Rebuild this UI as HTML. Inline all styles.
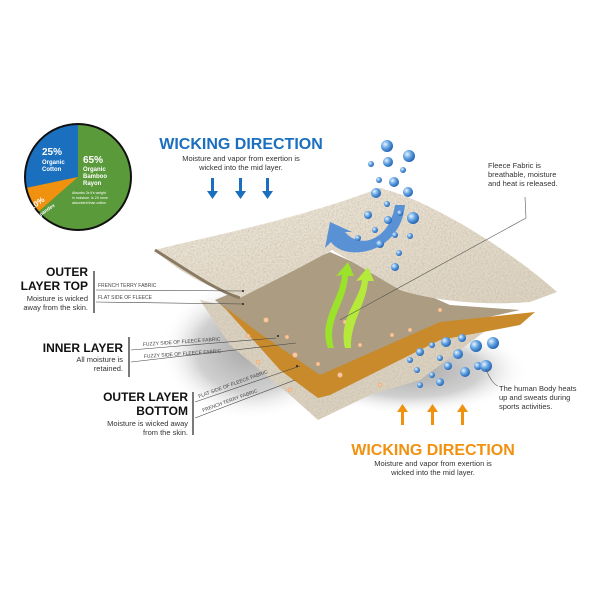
<!DOCTYPE html>
<html><head><meta charset="utf-8"><style>
body{margin:0;background:#fff;}
svg{display:block;font-family:"Liberation Sans",sans-serif;}
</style></head><body>
<svg width="600" height="600" viewBox="0 0 600 600" xmlns="http://www.w3.org/2000/svg">
<defs>
<radialGradient id="bub" cx="0.35" cy="0.35" r="0.7"><stop offset="0" stop-color="#e8f4ff"/><stop offset="0.5" stop-color="#5fa0e0"/><stop offset="1" stop-color="#1f5fb0"/></radialGradient>
<radialGradient id="sh" cx="0.5" cy="0.5" r="0.5"><stop offset="0" stop-color="#a8a8a8"/><stop offset="0.6" stop-color="#d0d0d0"/><stop offset="1" stop-color="#fff" stop-opacity="0"/></radialGradient>
<linearGradient id="fl" x1="0" y1="0" x2="1" y2="1"><stop offset="0" stop-color="#efe8da"/><stop offset="1" stop-color="#ddd2bf"/></linearGradient>
<filter id="tex" x="0" y="0" width="1" height="1"><feTurbulence type="fractalNoise" baseFrequency="0.6" numOctaves="2" result="n"/><feColorMatrix in="n" type="matrix" values="0 0 0 0 0.55  0 0 0 0 0.5  0 0 0 0 0.42  0 0 0 -1.6 1.0" result="c"/><feComposite in="c" in2="SourceGraphic" operator="in" result="t"/><feMerge><feMergeNode in="SourceGraphic"/><feMergeNode in="t"/></feMerge></filter>
</defs>
<!-- pie -->
<circle cx="78" cy="177" r="53" fill="#5a9a3a"/>
<path d="M78,177 L78,124 A53,53 0 0 0 26,188 Z" fill="#1a6fbf"/>
<path d="M78,177 L26,188 A53,53 0 0 0 38,212 Z" fill="#f0910f"/>
<circle cx="78" cy="177" r="53" fill="none" stroke="#111" stroke-width="2"/>
<g fill="#fff" font-weight="bold">
<text x="42" y="155" font-size="10">25%</text>
<text x="42" y="164" font-size="6">Organic</text><text x="42" y="171" font-size="6">Cotton</text>
<text x="83" y="163" font-size="10">65%</text>
<text x="83" y="171" font-size="6">Organic</text><text x="83" y="178" font-size="6">Bamboo</text><text x="83" y="185" font-size="6">Rayon</text>
<text x="32" y="210" font-size="8" transform="rotate(-35 32 210)">10%</text>
<text x="38" y="218" font-size="5" transform="rotate(-35 38 218)">Spandex</text>
<text x="72" y="194" font-size="3.5" font-weight="normal">Absorbs 3x it's weight</text>
<text x="72" y="199" font-size="3.5" font-weight="normal">in moisture. Is 2X more</text>
<text x="72" y="204" font-size="3.5" font-weight="normal">absorbent than cotton</text>
</g>
<!-- top wicking -->
<text x="241" y="149" font-size="16" font-weight="bold" fill="#1a6fbf" text-anchor="middle">WICKING DIRECTION</text>
<text x="241" y="161" font-size="7.5" fill="#333" text-anchor="middle">Moisture and vapor from exertion is</text>
<text x="241" y="170" font-size="7.5" fill="#333" text-anchor="middle">wicked into the mid layer.</text>
<g fill="#1a6fbf">
<path d="M211,178h3v13h4l-5.5,8l-5.5,-8h4z"/><path d="M239,178h3v13h4l-5.5,8l-5.5,-8h4z"/><path d="M266,178h3v13h4l-5.5,8l-5.5,-8h4z"/>
</g>
<!-- shadow -->
<ellipse cx="250" cy="350" rx="90" ry="70" fill="url(#sh)"/>
<ellipse cx="410" cy="370" rx="120" ry="45" fill="url(#sh)"/>
<!-- bottom fleece -->
<path d="M200,300 L330,330 L500,320 L420,380 L370,395 L318,420 L290,395 L230,345 Z" fill="#dcd2bf" filter="url(#tex)"/>
<!-- brown underside -->
<path d="M215,300 L330,252 L450,305 L520,310 L430,330 L320,390 Z" fill="#ac9c82"/>
<!-- orange layer -->
<path d="M222,305 L262,335 L320,375 L440,322 L535,312 L520,325 L440,340 L330,395 L318,398 L280,370 Z" fill="#c88a2a"/>
<!-- top fleece -->
<path d="M155,250 C200,238 290,222 380,188 C430,200 510,250 557,292 L530,302 C480,306 430,300 400,290 L332,250 C300,268 265,285 240,298 C200,285 170,265 155,250 Z" fill="url(#fl)" filter="url(#tex)"/>
<path d="M155,250 C190,272 215,290 240,298" fill="none" stroke="#8a7a62" stroke-width="3"/>
<!-- moisture dots -->
<g fill="#f6c8a0" stroke="#e8a070" stroke-width="0.5">
<circle cx="266" cy="320" r="2.5"/><circle cx="287" cy="337" r="2"/><circle cx="295" cy="355" r="2.5"/><circle cx="318" cy="364" r="2"/><circle cx="340" cy="375" r="2.5"/><circle cx="360" cy="345" r="2"/><circle cx="392" cy="335" r="2"/><circle cx="410" cy="330" r="2"/><circle cx="248" cy="336" r="2"/><circle cx="258" cy="362" r="2"/><circle cx="290" cy="390" r="2"/><circle cx="380" cy="385" r="2"/><circle cx="440" cy="310" r="2"/><circle cx="345" cy="322" r="2"/>
</g>
<!-- green arrows -->
<path d="M328,348 C318,320 340,300 342,275 L336,276 L348,262 L354,276 L348,276 C346,305 326,320 334,348 Z" fill="#9be22a"/>
<path d="M345,348 C338,318 360,300 362,280 L356,281 L368,267 L374,281 L368,281 C366,305 350,322 351,348 Z" fill="#b6ea3a"/>
<!-- blue curved arrow -->
<path d="M395,205 C390,240 360,250 345,232 L352,232 L330,222 L325,248 L331,242 C345,262 400,255 405,205 Z" fill="#4a8ad6" opacity="0.9"/>
<!-- bubbles -->
<g fill="url(#bub)">
<circle cx="387" cy="146" r="6"/><circle cx="388" cy="162" r="5"/><circle cx="409" cy="156" r="6"/><circle cx="379" cy="180" r="3"/><circle cx="394" cy="182" r="5"/><circle cx="376" cy="193" r="5"/><circle cx="408" cy="192" r="5"/><circle cx="387" cy="204" r="3"/><circle cx="400" cy="213" r="3"/><circle cx="413" cy="218" r="6"/><circle cx="368" cy="215" r="4"/><circle cx="388" cy="220" r="4"/><circle cx="375" cy="230" r="3"/><circle cx="395" cy="235" r="3"/><circle cx="410" cy="236" r="3"/><circle cx="380" cy="244" r="4"/><circle cx="399" cy="253" r="3"/><circle cx="395" cy="267" r="4"/><circle cx="358" cy="238" r="3"/><circle cx="403" cy="170" r="3"/><circle cx="371" cy="164" r="3"/>
<circle cx="432" cy="345" r="3"/><circle cx="446" cy="342" r="5"/><circle cx="462" cy="338" r="4"/><circle cx="476" cy="346" r="6"/><circle cx="493" cy="343" r="6"/><circle cx="420" cy="352" r="4"/><circle cx="440" cy="358" r="3"/><circle cx="458" cy="354" r="5"/><circle cx="478" cy="366" r="4"/><circle cx="448" cy="366" r="4"/><circle cx="465" cy="372" r="5"/><circle cx="486" cy="366" r="6"/><circle cx="417" cy="370" r="3"/><circle cx="432" cy="375" r="3"/><circle cx="420" cy="385" r="3"/><circle cx="440" cy="382" r="4"/><circle cx="410" cy="360" r="3"/>
</g>
<!-- right notes -->
<g font-size="7.5" fill="#333">
<text x="488" y="168">Fleece Fabric is</text><text x="488" y="177">breathable, moisture</text><text x="488" y="186">and heat is released.</text>
<text x="499" y="391">The human Body heats</text><text x="499" y="400">up and sweats during</text><text x="499" y="409">sports activities.</text>
</g>
<path d="M525,197 L526,218 L340,320" fill="none" stroke="#555" stroke-width="0.6"/>
<path d="M486,369 C490,380 495,385 498,386" fill="none" stroke="#555" stroke-width="0.6"/>
<!-- bottom wicking -->
<g fill="#f0910f">
<path d="M401,425h3v-13h4l-5.5,-8l-5.5,8h4z"/><path d="M431,425h3v-13h4l-5.5,-8l-5.5,8h4z"/><path d="M461,425h3v-13h4l-5.5,-8l-5.5,8h4z"/>
</g>
<text x="433" y="455" font-size="16" font-weight="bold" fill="#f0910f" text-anchor="middle">WICKING DIRECTION</text>
<text x="433" y="466" font-size="7.5" fill="#333" text-anchor="middle">Moisture and vapor from exertion is</text>
<text x="433" y="475" font-size="7.5" fill="#333" text-anchor="middle">wicked into the mid layer.</text>
<!-- left labels -->
<g fill="#111" font-weight="bold" font-size="12" text-anchor="end">
<text x="88" y="276">OUTER</text><text x="88" y="290">LAYER TOP</text>
<text x="123" y="352">INNER LAYER</text>
<text x="188" y="401">OUTER LAYER</text><text x="188" y="415">BOTTOM</text>
</g>
<g fill="#333" font-size="7.5" text-anchor="end">
<text x="88" y="301">Moisture is wicked</text><text x="88" y="310">away from the skin.</text>
<text x="123" y="362">All moisture is</text><text x="123" y="371">retained.</text>
<text x="188" y="426">Moisture is wicked away</text><text x="188" y="435">from the skin.</text>
</g>
<g stroke="#222" stroke-width="1.2"><path d="M94,271V313"/><path d="M129,337V377"/><path d="M193,392V435"/></g>
<g stroke="#444" stroke-width="0.6" fill="none">
<path d="M96,290 L243,291"/><path d="M96,302 L243,304"/>
<path d="M131,350 L276,338"/><path d="M131,362 L296,343"/>
<path d="M195,402 L300,366"/><path d="M195,418 L295,380"/>
</g>
<g fill="#222"><circle cx="243" cy="291" r="1"/><circle cx="243" cy="304" r="1"/><circle cx="278" cy="336" r="1"/><circle cx="297" cy="366" r="1"/></g>
<g fill="#444" font-size="5">
<text x="98" y="287">FRENCH TERRY FABRIC</text><text x="98" y="299">FLAT SIDE OF FLEECE</text>
<text x="143" y="346" transform="rotate(-4 143 346)">FUZZY SIDE OF FLEECE FABRIC</text>
<text x="144" y="358" transform="rotate(-4 144 358)">FUZZY SIDE OF FLEECE FABRIC</text>
<text x="199" y="398" transform="rotate(-20 199 398)">FLAT SIDE OF FLEECE FABRIC</text>
<text x="203" y="412" transform="rotate(-20 203 412)">FRENCH TERRY FABRIC</text>
</g>
</svg>
</body></html>
